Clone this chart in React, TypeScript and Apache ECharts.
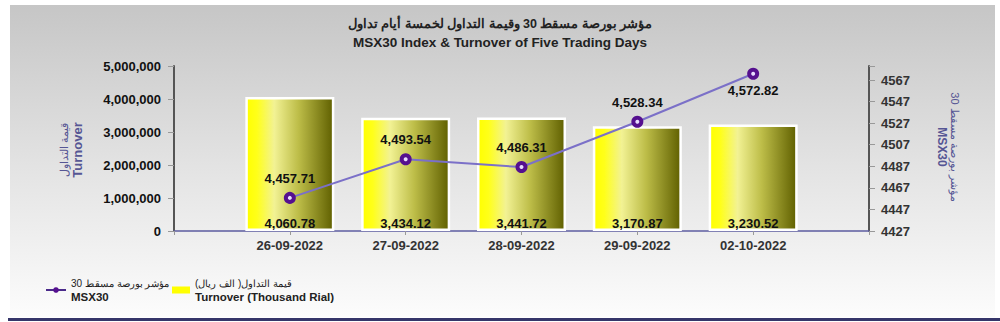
import React, { useEffect, useRef } from "react";
import * as echarts from "echarts";

const dates = ["26-09-2022", "27-09-2022", "28-09-2022", "29-09-2022", "02-10-2022"];
const turnoverThousand = [4060.78, 3434.12, 3441.72, 3170.87, 3230.52];
const msx30 = [4457.71, 4493.54, 4486.31, 4528.34, 4572.82];
const leftTicks = [0, 1000000, 2000000, 3000000, 4000000, 5000000];
const rightTicks = [4427, 4447, 4467, 4487, 4507, 4527, 4547, 4567];

const titleAr = "مؤشر بورصة مسقط 30 وقيمة التداول لخمسة أيام تداول";
const titleEn = "MSX30 Index & Turnover of Five Trading Days";
const leftNameAr = "قيمة التداول";
const leftNameEn = "Turnover";
const rightNameAr = "مؤشر بورصة مسقط 30";
const rightNameEn = "MSX30";
const legendLineAr = "مؤشر بورصة مسقط 30";
const legendLineEn = "MSX30";
const legendBarAr = "قيمة التداول( الف ريال)";
const legendBarEn = "Turnover (Thousand Rial)";

const fmt2 = (v: number) =>
  v.toLocaleString("en-US", { minimumFractionDigits: 2, maximumFractionDigits: 2 });
const fmt0 = (v: number) => v.toLocaleString("en-US");

export default function App() {
  const ref = useRef<HTMLDivElement>(null);
  useEffect(() => {
    if (!ref.current) return;
    const chart = echarts.init(ref.current, undefined, { renderer: "svg" });
    const cats = ["", ...dates, ""];
    const barData: any[] = ["-", ...turnoverThousand.map((v) => v * 1000), "-"];
    const lineData: any[] = [
      "-",
      ...msx30.map((v, i) =>
        i === msx30.length - 1 ? { value: v, label: { position: "bottom", distance: 4 } } : v
      ),
      "-",
    ];
    const font = "Liberation Sans, Arial, sans-serif";
    const axisNameColor = "#565694";
    chart.setOption({
      animation: false,
      textStyle: { fontFamily: font },
      title: {
        left: "center",
        top: 9,
        text: `{ar|${titleAr}}\n{en|${titleEn}}`,
        textStyle: {
          rich: {
            ar: { fontSize: 12.5, fontWeight: "bold", color: "#222", lineHeight: 19, fontFamily: font },
            en: { fontSize: 13.5, fontWeight: "bold", color: "#222", lineHeight: 19, fontFamily: font },
          },
        },
      },
      graphic: [
        {
          type: "rect",
          z: -10,
          silent: true,
          shape: { x: 10, y: 5, width: 985, height: 312 },
          style: {
            fill: new echarts.graphic.LinearGradient(0, 0, 0, 1, [
              { offset: 0, color: "#c6c6c6" },
              { offset: 0.5, color: "#e2e2e2" },
              { offset: 1, color: "#fcfcfc" },
            ]),
          },
        },
        {
          type: "rect",
          z: -9,
          silent: true,
          shape: { x: 8, y: 318, width: 992, height: 3 },
          style: { fill: "#36366a" },
        },
        {
          type: "text",
          x: 71,
          y: 150,
          rotation: Math.PI / 2,
          style: {
            text: `{ar|${leftNameAr}}\n{en|${leftNameEn}}`,
            align: "center",
            verticalAlign: "middle",
            fill: axisNameColor,
            rich: {
              ar: { fontSize: 11, fill: axisNameColor, lineHeight: 13, fontFamily: font },
              en: { fontSize: 13, fontWeight: "bold", fill: axisNameColor, lineHeight: 14, fontFamily: font },
            },
          },
        },
        {
          type: "text",
          x: 948,
          y: 147,
          rotation: -Math.PI / 2,
          style: {
            text: `{ar|${rightNameAr}}\n{en|${rightNameEn}}`,
            align: "center",
            verticalAlign: "middle",
            fill: axisNameColor,
            rich: {
              ar: { fontSize: 11, fill: axisNameColor, lineHeight: 12, fontFamily: font },
              en: { fontSize: 12, fontWeight: "bold", fill: axisNameColor, lineHeight: 13, fontFamily: font },
            },
          },
        },
      ],
      legend: [
        {
          left: 45,
          top: 278,
          padding: 0,
          itemWidth: 20,
          itemHeight: 7,
          data: [{ name: "MSX30", itemStyle: { color: "#55108f", borderWidth: 0 }, lineStyle: { color: "#4a2a8a", width: 2 } }],
          formatter: () => `{ar|${legendLineAr}}\n{en|${legendLineEn}}`,
          textStyle: {
            rich: {
              ar: { fontSize: 10, color: "#222", lineHeight: 14, fontFamily: font },
              en: { fontSize: 11.5, fontWeight: "bold", color: "#222", lineHeight: 14, fontFamily: font },
            },
          },
        },
        {
          left: 172,
          top: 278,
          padding: 0,
          itemWidth: 18,
          itemHeight: 7,
          data: [{ name: "Turnover", icon: "rect", itemStyle: { color: "#ffff00", borderWidth: 0 } }],
          formatter: () => `{ar|${legendBarAr}}\n{en|${legendBarEn}}`,
          textStyle: {
            rich: {
              ar: { fontSize: 10, color: "#222", lineHeight: 14, fontFamily: font },
              en: { fontSize: 11.5, fontWeight: "bold", color: "#222", lineHeight: 14, fontFamily: font },
            },
          },
        },
      ],
      grid: { left: 174, right: 131, top: 66, bottom: 91, containLabel: false },
      xAxis: {
        type: "category",
        data: cats,
        boundaryGap: false,
        axisLine: { lineStyle: { color: "#5c5ca0", width: 1.5 } },
        axisTick: { show: true, length: 4, lineStyle: { color: "#999" } },
        axisLabel: { fontSize: 13, fontWeight: "bold", color: "#333", margin: 8, interval: 0, fontFamily: font },
        splitLine: { show: false },
      },
      yAxis: [
        {
          type: "value",
          min: leftTicks[0],
          max: leftTicks[leftTicks.length - 1],
          interval: leftTicks[1] - leftTicks[0],
          axisLine: { show: true, lineStyle: { color: "#555", width: 2 } },
          axisTick: { show: true, length: 6, lineStyle: { color: "#999" } },
          axisLabel: {
            fontSize: 13,
            fontWeight: "bold",
            color: "#111",
            margin: 13,
            fontFamily: font,
            formatter: (v: number) => fmt0(v),
          },
          splitLine: { show: false },
        },
        {
          type: "value",
          min: rightTicks[0],
          max: 4580,
          interval: rightTicks[1] - rightTicks[0],
          axisLine: { show: true, lineStyle: { color: "#555", width: 2 } },
          axisTick: { show: true, length: 6, lineStyle: { color: "#999" } },
          axisLabel: {
            fontSize: 13,
            fontWeight: "bold",
            color: "#333",
            margin: 12,
            fontFamily: font,
            formatter: (v: number) => (rightTicks.includes(Math.round(v)) ? String(Math.round(v)) : ""),
          },
          splitLine: { show: false },
        },
      ],
      series: [
        {
          name: "Turnover",
          type: "bar",
          yAxisIndex: 0,
          barWidth: 89,
          data: barData,
          itemStyle: {
            color: new echarts.graphic.LinearGradient(0, 0, 1, 0, [
              { offset: 0, color: "#ffff00" },
              { offset: 0.12, color: "#ffff1a" },
              { offset: 0.32, color: "#f2f294" },
              { offset: 0.6, color: "#bdbd48" },
              { offset: 1, color: "#606000" },
            ]),
            borderColor: "#ffffff",
            borderWidth: 2.5,
          },
          label: {
            show: true,
            position: "insideBottom",
            distance: 1,
            fontSize: 13,
            fontWeight: "bold",
            color: "#111",
            fontFamily: font,
            formatter: (p: any) => fmt2(turnoverThousand[p.dataIndex - 1]),
          },
          z: 2,
        },
        {
          name: "MSX30",
          type: "line",
          yAxisIndex: 1,
          data: lineData,
          symbol: "circle",
          symbolSize: 8,
          lineStyle: { color: "#7b70c8", width: 2 },
          itemStyle: { color: "#e8dcff", borderColor: "#55108f", borderWidth: 4 },
          label: {
            show: true,
            position: "top",
            distance: 7,
            fontSize: 13,
            fontWeight: "bold",
            color: "#111",
            fontFamily: font,
            formatter: (p: any) => fmt2(p.value),
          },
          z: 3,
        },
      ],
    });
    return () => chart.dispose();
  }, []);
  return <div ref={ref} style={{ position: "absolute", left: 0, top: 0, width: 1000, height: 322 }} />;
}
